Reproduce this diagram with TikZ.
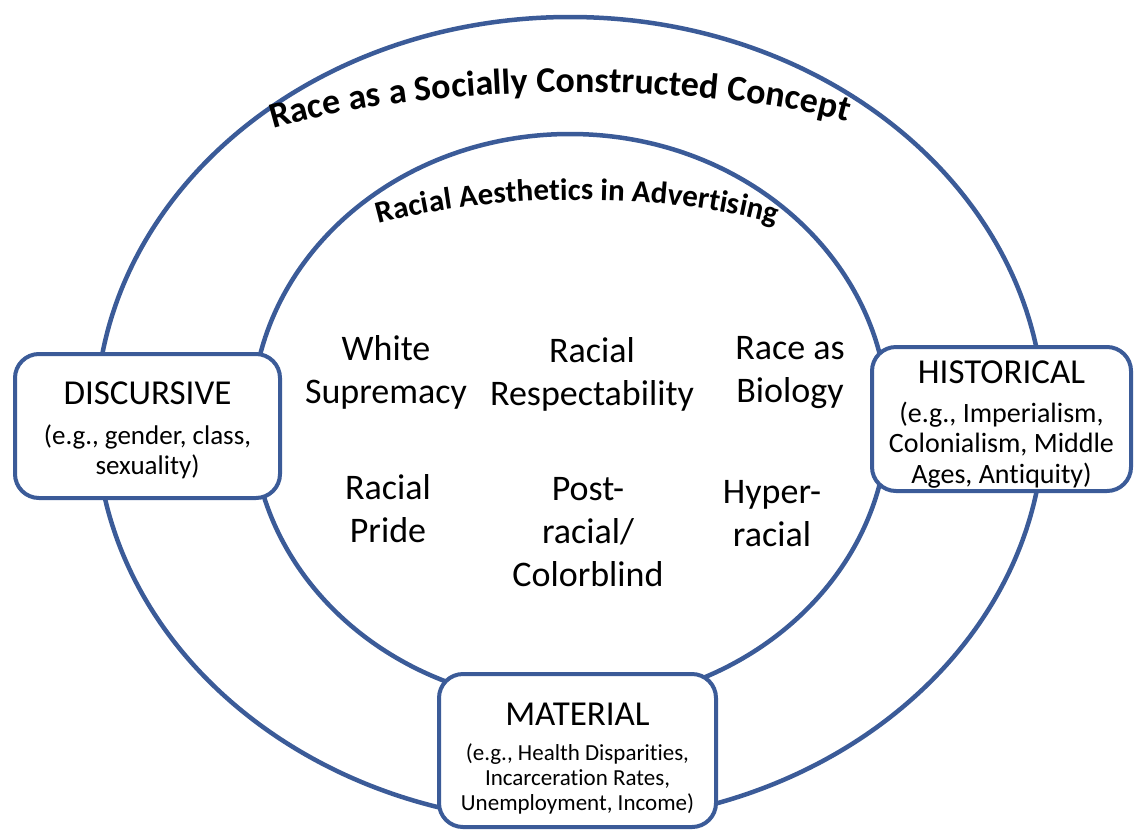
\documentclass[tikz,border=0pt]{standalone}
\usepackage{fontspec}
\setmainfont{Carlito}[Ligatures=CommonOff]
\usepackage{tikz}
\usetikzlibrary{decorations.text}
\definecolor{ringblue}{RGB}{59,91,152}
\newcommand\themebox[5]{
  \node[draw=ringblue,line width=4pt,fill=white,rounded corners=24pt,
        minimum width=#4,minimum height=#5,inner sep=0pt] (#1) at (#2,#3) {};
}
\newcommand\archtext[3]{
  \path[decorate,decoration={text along path,text align=center,
        text={|\bfseries\fontsize{#1}{#1}\selectfont|#2}}] #3;
}

\begin{document}
\begin{tikzpicture}[x=1pt,y=-1pt,
  ring/.style={draw=ringblue,line width=4.5pt},
  boxhead/.style={font=\fontsize{35}{40}\selectfont,inner sep=0pt},
  aesth/.style={font=\fontsize{36}{43}\selectfont,align=center,inner sep=0pt}]

  \useasboundingbox (0,0) rectangle (1139,833);

  % the two rings
  \draw[ring] (570,420) ellipse [x radius=474, y radius=403];
  \draw[ring] (570,419) ellipse [x radius=318, y radius=285];

  \archtext{36}{Race as a Socially Constructed Concept}{(240,140) .. controls (395,80) and (725,76) .. (880,132)}
  \archtext{31}{Racial Aesthetics in Advertising}{(358,230) .. controls (478,190) and (676,190) .. (796,230)}

  % aesthetics
  \node[aesth] (white) at (386,372) {White\\Supremacy};
  \node[aesth] (respect) at (592,374) {Racial\\Respectability};
  \node[aesth] (biology) at (790,373) {Race as\\Biology};
  \node[aesth] (pride) at (388,509) {Racial\\Pride};
  \node[aesth] (postracial) at (588,532) {Post-\\racial/\\Colorblind};
  \node[aesth] (hyper) at (772,514) {Hyper-\\racial};

  % the three boxes
  \themebox{disc}{147.5}{426}{265}{144}
  \themebox{hist}{1001.5}{419}{259}{144}
  \themebox{mat}{577.5}{750.5}{277}{153}

  \node[boxhead] (disc-t) at (147.5,393) {DISCURSIVE};
  \node[font=\fontsize{27}{30}\selectfont,align=center,inner sep=0pt] (disc-s) at (147.5,452) {(e.g., gender, class,\\sexuality)};

  \node[boxhead] (hist-t) at (1001.5,372) {HISTORICAL};
  \node[font=\fontsize{28}{30.5}\selectfont,align=center,inner sep=0pt] (hist-s) at (1001.5,445) {(e.g., Imperialism,\\Colonialism, Middle\\Ages, Antiquity)};

  \node[boxhead] (mat-t) at (577.5,714) {MATERIAL};
  \node[font=\fontsize{23}{25}\selectfont,align=center,inner sep=0pt] (mat-s) at (577.5,779) {(e.g., Health Disparities,\\Incarceration Rates,\\Unemployment, Income)};

\end{tikzpicture}
\end{document}
